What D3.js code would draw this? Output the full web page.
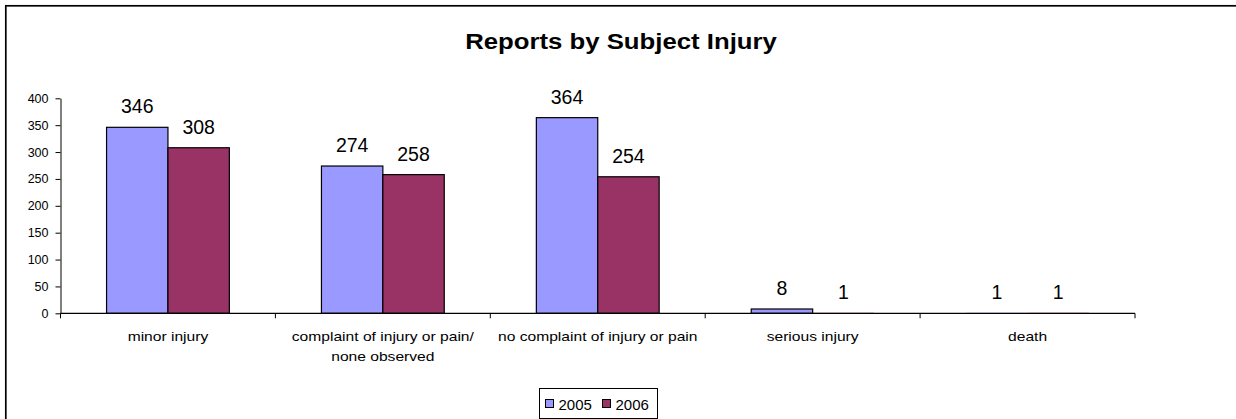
<!DOCTYPE html>
<html lang="en">
<head>
<meta charset="utf-8">
<title>Reports by Subject Injury</title>
<script src="https://cdn.jsdelivr.net/npm/d3@7"></script>
<style>
  body { margin: 0; background: #fff; }
  svg { display: block; font-family: "Liberation Sans", Arial, sans-serif; }
</style>
</head>
<body>
<svg id="chart" width="1236" height="419"></svg>
<script>
// data
var categories = [["minor injury"], ["complaint of injury or pain/", "none observed"],
                  ["no complaint of injury or pain"], ["serious injury"], ["death"]];
var seriesNames = ["2005", "2006"];
var values2005 = [346, 274, 364, 8, 1];
var values2006 = [308, 258, 254, 1, 1];
var yTicks = [0, 50, 100, 150, 200, 250, 300, 350, 400];
var colors = ["#9999ff", "#993366"];

var svg = d3.select("#chart");

// outer chart border (runs off the right and bottom edge)
svg.append("rect")
  .attr("x", 5.8).attr("y", 5.8)
  .attr("width", 1240).attr("height", 420)
  .attr("fill", "none").attr("stroke", "#000").attr("stroke-width", 1.7);

// the original text is drawn a bit wide, so stretch it horizontally
svg.append("text")
  .attr("transform", "translate(621,48.5) scale(1.17,1)")
  .attr("text-anchor", "middle")
  .style("font-size", "22px").style("font-weight", "bold")
  .text("Reports by Subject Injury");

var plotLeft = 60.5, plotRight = 1135, plotTop = 98.3, plotBottom = 313.3;

var x = d3.scaleBand()
  .domain(d3.range(categories.length))
  .range([plotLeft, plotRight])
  .paddingInner(0).paddingOuter(0);

// Excel gap width 150%: two bars take 2/3.5 of the category
var inner = d3.scaleBand()
  .domain(seriesNames)
  .range([0, x.bandwidth()])
  .paddingInner(0)
  .paddingOuter(0.75);

var y = d3.scaleLinear().domain([0, 400]).range([plotBottom, plotTop]);

// y axis
var yAxis = svg.append("g")
  .attr("transform", "translate(" + plotLeft + ",0)")
  .call(d3.axisLeft(y).tickValues(yTicks).tickSize(5).tickSizeOuter(0).tickPadding(7));
yAxis.select(".domain").attr("stroke", "#000");
yAxis.selectAll("line").attr("stroke", "#000");
yAxis.selectAll("text")
  .style("font-size", "12.5px")
  .style("font-family", "Liberation Sans, Arial, sans-serif")
  .attr("fill", "#000");

// bars
var series = [values2005, values2006];
series.forEach(function(vals, si) {
  var g = svg.append("g");
  g.selectAll("rect")
    .data(vals)
    .enter().append("rect")
    .attr("x", function(d, i) { return x(i) + inner(seriesNames[si]); })
    .attr("y", function(d) { return y(d); })
    .attr("width", inner.bandwidth())
    .attr("height", function(d) { return plotBottom - y(d); })
    .attr("fill", colors[si])
    .attr("stroke", function(d) { return plotBottom - y(d) < 1 ? "none" : "#000"; })
    .attr("stroke-width", 1.2);

  g.selectAll("text")
    .data(vals)
    .enter().append("text")
    .attr("x", function(d, i) { return x(i) + inner(seriesNames[si]) + inner.bandwidth() / 2; })
    .attr("y", function(d) { return y(d) - 14; })
    .attr("text-anchor", "middle")
    .style("font-size", "19.5px")
    .text(function(d) { return d; });
});

// x axis
var xAxis = svg.append("g")
  .attr("transform", "translate(0," + plotBottom + ")");
xAxis.append("line")
  .attr("x1", plotLeft).attr("x2", plotRight)
  .attr("stroke", "#000").attr("stroke-width", 1.2);
xAxis.selectAll(".tick")
  .data(d3.range(categories.length + 1))
  .enter().append("line")
  .attr("x1", function(i) { return i < categories.length ? x(i) : plotRight; })
  .attr("x2", function(i) { return i < categories.length ? x(i) : plotRight; })
  .attr("y1", 0).attr("y2", 5)
  .attr("stroke", "#000");
xAxis.selectAll(".cat")
  .data(categories)
  .enter().append("text")
  .attr("class", "cat")
  .attr("transform", function(d, i) {
    return "translate(" + (x(i) + x.bandwidth() / 2) + ",27.5) scale(1.25,1)";
  })
  .attr("text-anchor", "middle")
  .style("font-size", "12.5px")
  .each(function(d) {
    var t = d3.select(this);
    d.forEach(function(line, li) {
      t.append("tspan")
        .attr("x", 0)
        .attr("dy", li === 0 ? 0 : 20)
        .text(line);
    });
  });

// legend
var legend = svg.append("g").attr("transform", "translate(539.5,388.5)");
legend.append("rect")
  .attr("width", 118).attr("height", 30)
  .attr("fill", "#fff").attr("stroke", "#000");
seriesNames.forEach(function(name, i) {
  var lg = legend.append("g").attr("transform", "translate(" + (6 + i * 57) + ",0)");
  lg.append("rect")
    .attr("x", 0).attr("y", 11)
    .attr("width", 8).attr("height", 8)
    .attr("fill", colors[i]).attr("stroke", "#000");
  lg.append("text")
    .attr("x", 13).attr("y", 21)
    .style("font-size", "15px")
    .text(name);
});
</script>
</body>
</html>
